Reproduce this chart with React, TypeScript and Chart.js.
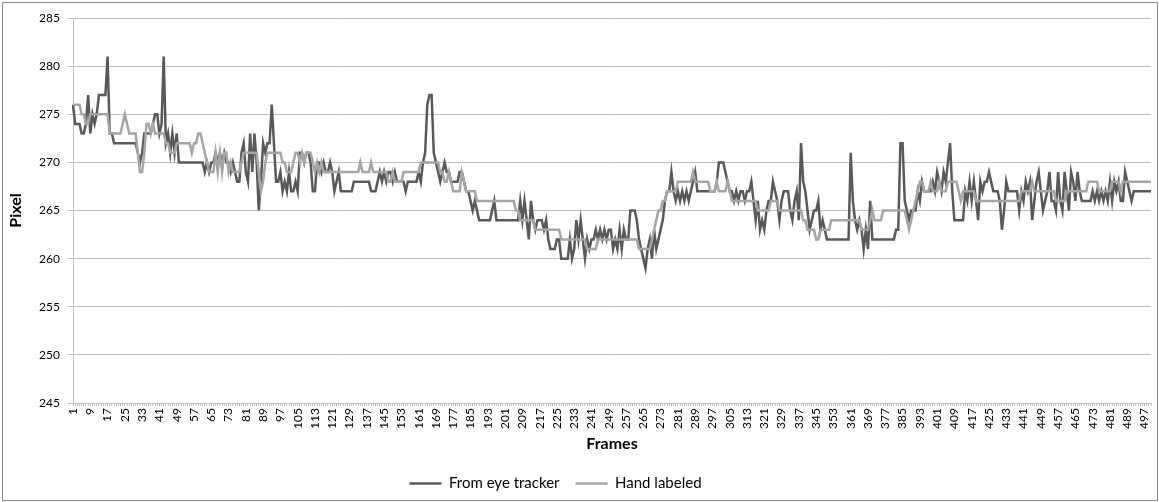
import React, { useEffect, useRef } from "react";
import { Chart, registerables } from "chart.js";

Chart.register(...registerables);

const frames: string[] = Array.from({ length: 500 }, (_, i) => String(i + 1));

const yTicks = { min: 245, max: 285, step: 5 };

const eyeTracker: number[] = [
  276,274,274,274,273,273,274,277,273,275,
  274,275,277,277,277,277,281,273,273,272,
  272,272,272,272,272,272,272,272,272,272,
  271,270,271,273,273,273,273,274,275,275,
  273,274,281,272,273,271,273,271,273,270,
  270,270,270,270,270,270,270,270,270,270,
  270,269,270,269,270,270,271,270,271,270,
  271,270,270,269,270,269,268,268,271,272,
  269,268,273,269,273,270,265,268,272,271,
  272,272,276,272,268,268,269,267,268,267,
  269,267,267,268,267,271,271,270,271,271,
  270,267,267,270,270,269,270,269,269,270,
  269,267,268,269,267,267,267,267,267,267,
  268,268,268,268,268,268,268,268,267,267,
  267,268,269,268,269,268,269,269,268,269,
  268,268,268,268,267,268,268,268,268,268,
  269,268,270,271,276,277,277,271,270,269,
  268,269,270,269,269,268,268,268,268,269,
  269,268,267,267,266,265,266,265,264,264,
  264,264,264,264,265,266,264,264,264,264,
  264,264,264,264,264,264,264,266,264,266,
  264,262,266,264,263,264,264,264,263,264,
  262,261,261,261,262,262,260,260,260,260,
  262,260,261,264,262,264,262,260,262,261,
  262,262,263,262,263,262,263,262,263,263,
  261,262,261,263,261,263,262,262,265,265,
  265,264,262,261,260,259,261,262,260,263,
  261,262,263,264,266,267,267,269,267,266,
  267,266,267,266,267,266,267,268,269,267,
  267,267,267,267,267,267,267,267,268,270,
  270,270,269,268,267,267,266,267,266,267,
  267,266,267,267,268,266,264,266,263,264,
  263,265,266,266,268,267,266,264,266,267,
  267,267,265,264,266,267,264,272,268,267,
  265,263,264,265,265,266,263,264,263,262,
  262,262,262,262,262,262,262,262,262,262,
  271,266,264,263,264,263,261,263,261,266,
  262,262,262,262,262,262,262,262,262,262,
  262,263,263,272,272,266,265,264,265,265,
  265,267,266,268,267,267,267,267,268,267,
  269,268,267,269,268,270,272,267,264,264,
  264,264,264,267,266,268,266,268,266,264,
  268,267,268,268,269,268,267,267,267,266,
  263,265,268,267,267,267,267,267,265,267,
  266,268,267,268,264,266,268,269,267,265,
  266,267,269,266,266,265,269,266,265,269,
  267,265,269,268,266,269,267,266,266,266,
  266,266,267,266,267,266,267,266,267,266,
  268,266,268,267,268,266,266,269,268,267,
  266,267,267,267,267,267,267,267,267,267,
];

const handLabeled: number[] = [
  276,276,276,276,275,275,274,274,275,275,
  275,275,275,275,275,275,275,273,273,273,
  273,273,273,274,275,274,273,273,273,273,
  271,269,269,271,274,274,273,274,273,273,
  273,273,273,272,272,271,271,271,272,272,
  272,272,272,272,272,271,272,272,273,273,
  272,271,270,269,269,269,271,269,271,269,
  271,271,269,270,269,269,269,269,270,271,
  271,271,271,271,271,271,269,267,268,270,
  271,271,271,271,271,271,271,270,270,269,
  269,269,270,271,271,270,271,270,271,271,
  271,270,269,270,269,270,269,269,269,269,
  269,269,269,269,269,269,269,269,269,269,
  269,269,269,270,269,269,269,269,270,269,
  269,269,269,269,269,269,268,268,269,268,
  268,268,268,269,269,269,269,269,269,269,
  269,270,270,270,270,270,270,270,270,270,
  269,269,268,268,269,268,267,267,267,267,
  269,268,267,267,267,267,267,266,266,266,
  266,266,266,266,266,266,266,266,266,266,
  266,266,266,266,266,265,265,264,264,264,
  264,264,264,264,263,263,263,263,263,263,
  263,263,263,263,263,263,262,262,262,262,
  262,262,262,262,262,262,262,262,261,261,
  261,261,261,262,262,262,262,262,262,262,
  262,262,262,262,262,262,262,262,262,262,
  262,262,261,261,261,261,261,261,262,263,
  264,265,265,266,266,267,267,267,267,267,
  268,268,268,268,268,268,268,269,268,268,
  268,268,268,268,268,267,267,267,268,267,
  267,267,267,268,267,266,266,266,266,266,
  266,266,266,266,266,266,266,265,265,265,
  265,265,265,266,266,266,266,265,265,265,
  265,265,265,265,265,265,265,265,264,264,
  263,263,263,263,262,262,263,263,263,263,
  263,264,264,264,264,264,264,264,264,264,
  264,264,264,264,264,263,263,263,263,264,
  265,264,264,264,264,265,265,265,265,265,
  265,265,265,265,265,265,264,263,264,265,
  266,267,268,268,267,267,267,268,267,267,
  267,268,267,267,267,268,268,268,268,268,
  267,266,267,267,267,267,267,267,266,266,
  266,266,266,266,266,266,266,266,266,266,
  266,266,266,266,266,266,266,266,266,267,
  267,267,267,267,268,267,267,267,267,267,
  267,267,267,267,267,266,266,266,266,266,
  267,267,267,267,267,267,267,267,267,267,
  268,268,268,268,268,267,267,267,267,267,
  267,268,268,268,268,267,268,268,268,268,
  268,268,268,268,268,268,268,268,268,268,
];

const seriesNames = ["From eye tracker", "Hand labeled"];
const seriesColors = ["#595959", "#a6a6a6"];

const FONT = "Lato, 'Open Sans', sans-serif";

const legendShift = {
  id: "legendShift",
  afterLayout(chart: any) {
    const lg = chart.legend;
    if (lg) {
      lg.left -= 20;
      lg.right -= 20;
    }
  },
};

export default function App() {
  const canvasRef = useRef<HTMLCanvasElement | null>(null);

  useEffect(() => {
    const canvas = canvasRef.current;
    if (!canvas) return;
    const chart = new Chart(canvas, {
      type: "line",
      data: {
        labels: frames,
        datasets: [
          {
            label: seriesNames[0],
            data: eyeTracker,
            borderColor: seriesColors[0],
            backgroundColor: seriesColors[0],
            borderWidth: 2.5,
            pointRadius: 0,
            tension: 0,
            order: 2,
          },
          {
            label: seriesNames[1],
            data: handLabeled,
            borderColor: seriesColors[1],
            backgroundColor: seriesColors[1],
            borderWidth: 2.5,
            pointRadius: 0,
            tension: 0,
            order: 1,
          },
        ],
      },
      plugins: [legendShift],
      options: {
        responsive: false,
        animation: false,
        devicePixelRatio: 1,
        layout: { padding: { left: 0, right: 8, top: 18, bottom: 1 } },
        plugins: {
          tooltip: { enabled: false },
          legend: {
            position: "bottom",
            labels: {
              font: { family: FONT, size: 15 },
              color: "#000",
              usePointStyle: true,
              pointStyle: "line",
              pointStyleWidth: 32,
              padding: 16,
              sort: (a: any, b: any) => a.datasetIndex - b.datasetIndex,
            },
          },
        },
        scales: {
          x: {
            type: "category",
            offset: false,
            ticks: {
              autoSkip: false,
              maxRotation: 90,
              minRotation: 90,
              padding: 2,
              color: "#000",
              font: { family: FONT, size: 12 },
              callback: (_v: any, idx: number) => (idx % 8 === 0 ? frames[idx] : ""),
            },
            grid: {
              drawOnChartArea: false,
              drawTicks: true,
              tickLength: 3,
              color: "#bfbfbf",
            },
            border: { color: "#bfbfbf" },
            title: {
              display: true,
              text: "Frames",
              color: "#000",
              font: { family: FONT, size: 16, weight: "bold" },
              padding: { top: 2, bottom: 7 },
            },
            afterFit: (s: any) => {
              s.height = 57;
              s.paddingLeft = 0;
              s.paddingRight = 0;
            },
          },
          y: {
            min: yTicks.min,
            max: yTicks.max,
            ticks: {
              stepSize: yTicks.step,
              padding: 8,
              color: "#000",
              font: { family: FONT, size: 12 },
            },
            grid: { color: "#bfbfbf", tickLength: 5, drawTicks: true },
            border: { color: "#bfbfbf" },
            title: {
              display: true,
              text: "Pixel",
              color: "#000",
              font: { family: FONT, size: 16, weight: "bold" },
              padding: { top: 6, bottom: 0 },
            },
            afterFit: (s: any) => {
              s.width = 73;
            },
          },
        },
      },
    } as any);
    return () => chart.destroy();
  }, []);

  return (
    <div style={{ position: "absolute", left: 0, top: 0, width: 1159, height: 502, background: "#fff" }}>
      <canvas ref={canvasRef} width={1159} height={502} style={{ width: 1159, height: 502, display: "block" }} />
      <div
        style={{
          position: "absolute",
          left: 2,
          top: 2,
          width: 1156,
          height: 499,
          boxSizing: "border-box",
          border: "1px solid #8c8c8c",
          pointerEvents: "none",
        }}
      />
    </div>
  );
}
